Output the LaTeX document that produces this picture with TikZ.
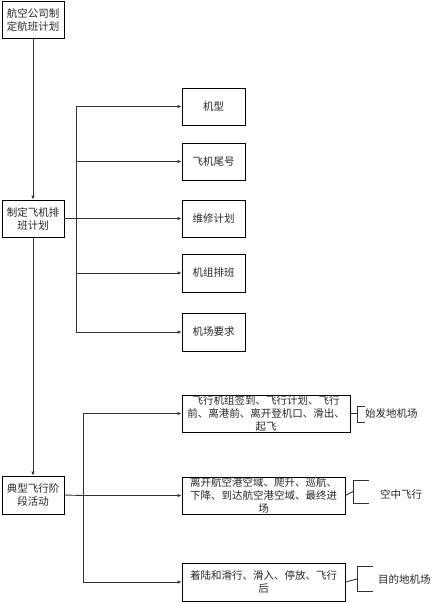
\documentclass[tikz,border=0pt]{standalone}
\usepackage{fontspec}
\setmainfont{Noto Sans CJK SC}
\usetikzlibrary{arrows.meta}
\begin{document}
\begin{tikzpicture}[x=1pt,y=-1pt,
  box/.style={draw=black,line width=0.8pt,inner sep=0pt,align=center,font=\fontsize{10.5}{13}\selectfont,text=black!85},
  lbl/.style={inner sep=0pt,font=\fontsize{10.5}{13}\selectfont,text=black!85},
  conn/.style={draw=black!80,line width=0.9pt},
  arr/.style={conn,-{Latex[length=4pt,width=3.5pt]}}]
\useasboundingbox (0,0) rectangle (433,603);
\node[box,minimum width=62pt,minimum height=37pt] (b1) at (33,20) {航空公司制\\定航班计划};
\node[box,minimum width=62pt,minimum height=37pt] (b2) at (33,218.5) {制定飞机排\\班计划};
\node[box,minimum width=62pt,minimum height=38pt] (b3) at (33,495) {典型飞行阶\\段活动};
\node[box,minimum width=63pt,minimum height=37pt] (m1) at (213.5,106.5) {机型};
\node[box,minimum width=63pt,minimum height=37pt] (m2) at (213.5,161.5) {飞机尾号};
\node[box,minimum width=63pt,minimum height=37pt] (m3) at (213.5,218.5) {维修计划};
\node[box,minimum width=63pt,minimum height=38pt] (m4) at (213.5,273) {机组排班};
\node[box,minimum width=63pt,minimum height=38pt] (m5) at (213.5,332) {机场要求};
\node[box,minimum width=168pt,minimum height=37pt] (p1) at (266,413.5) {飞行机组签到、飞行计划、飞行\\前、离港前、离开登机口、滑出、\\起飞};
\node[box,minimum width=163pt,minimum height=37pt] (p2) at (263.5,495.5) {离开航空港空域、爬升、巡航、\\下降、到达航空港空域、最终进\\场};
\node[box,minimum width=163pt,minimum height=38pt] (p3) at (263.5,582) {着陆和滑行、滑入、停放、飞行\\后};
\draw[arr] (b1) -- (b2);
\draw[arr] (b2) -- (b3);
\coordinate (v1) at (76,218.5);
\draw[conn] (b2.east) -- (v1);
\draw[conn] (76,106.5) -- (76,332);
\draw[arr] (76,106.5) -- (m1.west);
\draw[arr] (76,161.5) -- (m2.west);
\draw[arr] (v1) -- (m3.west);
\draw[arr] (76,273) -- (m4.west);
\draw[arr] (76,332) -- (m5.west);
\coordinate (v2) at (83,495.5);
\draw[conn] (b3.east) -- (v2);
\draw[conn] (83,413.5) -- (83,582);
\draw[arr] (83,413.5) -- (p1.west);
\draw[arr] (v2) -- (p2.west);
\draw[arr] (83,582) -- (p3.west);
% brackets
\node[lbl,anchor=west] (t1) at (365,413.5) {始发地机场};
\node[lbl,anchor=west] (t2) at (380,494) {空中飞行};
\node[lbl,anchor=west] (t3) at (378,579) {目的地机场};
\draw[conn] (p1.east) -- (357,413.5);
\draw[conn] (365,406) -- (357,406) -- (357,422) -- (365,422);
\draw[conn] (p2.east) -- (353,491.5);
\draw[conn] (369,480) -- (353,480) -- (353,503) -- (369,503);
\draw[conn] (p3.east) -- (357,579);
\draw[conn] (373,566) -- (357,566) -- (357,591) -- (373,591);
\end{tikzpicture}
\end{document}
